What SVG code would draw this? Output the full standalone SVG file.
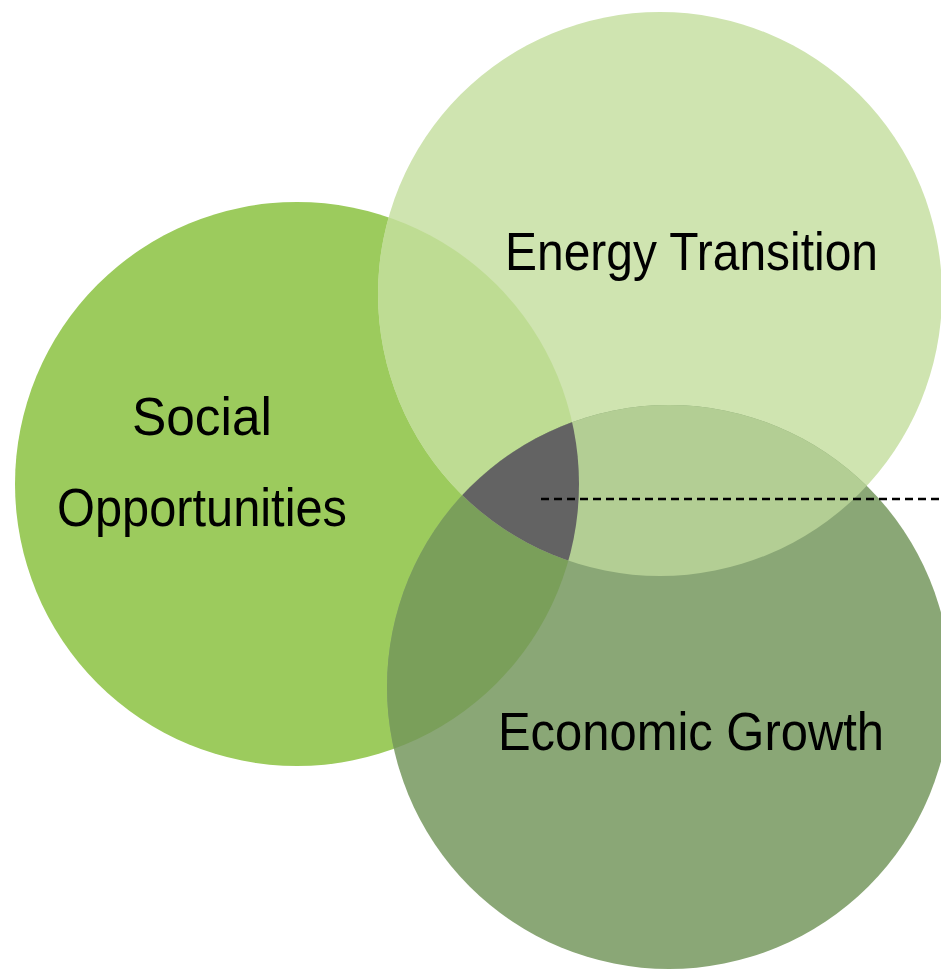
<svg xmlns="http://www.w3.org/2000/svg" width="941" height="969" viewBox="0 0 941 969">
<style>
.lbl{font-family:"Liberation Sans","DejaVu Sans",sans-serif;font-size:54px;fill:#000;font-weight:normal}
</style>
<defs>
<clipPath id="cS"><circle cx="297" cy="484" r="282"/></clipPath>
<clipPath id="cE"><circle cx="660" cy="294" r="282"/></clipPath>
</defs>
<rect width="941" height="969" fill="#fff"/>
<g id="social"><circle cx="297" cy="484" r="282" fill="#9ccb5d"/></g>
<g id="energy"><circle cx="660" cy="294" r="282" fill="#cfe4b0"/></g>
<g id="economic"><circle cx="669" cy="687" r="282" fill="#8aa776"/></g>
<g id="overlaps">
<g clip-path="url(#cS)"><circle cx="660" cy="294" r="282" fill="#bedc93"/><circle cx="669" cy="687" r="282" fill="#7a9f5a"/></g>
<g clip-path="url(#cE)"><circle cx="669" cy="687" r="282" fill="#b3ce94"/></g>
<g clip-path="url(#cE)"><g clip-path="url(#cS)"><circle cx="669" cy="687" r="282" fill="#636363"/></g></g>
</g>
<g id="connectors"><line x1="541" y1="499" x2="941" y2="499" stroke="#000" stroke-width="2.5" stroke-dasharray="8,5"/></g>
<g id="label-energy"><text class="lbl" x="505" y="270" textLength="373" lengthAdjust="spacingAndGlyphs">Energy Transition</text></g>
<g id="label-social"><text class="lbl" x="132" y="435" textLength="140" lengthAdjust="spacingAndGlyphs">Social</text><text class="lbl" x="57" y="526" textLength="290" lengthAdjust="spacingAndGlyphs">Opportunities</text></g>
<g id="label-economic"><text class="lbl" x="498" y="750" textLength="386" lengthAdjust="spacingAndGlyphs">Economic Growth</text></g>
</svg>
